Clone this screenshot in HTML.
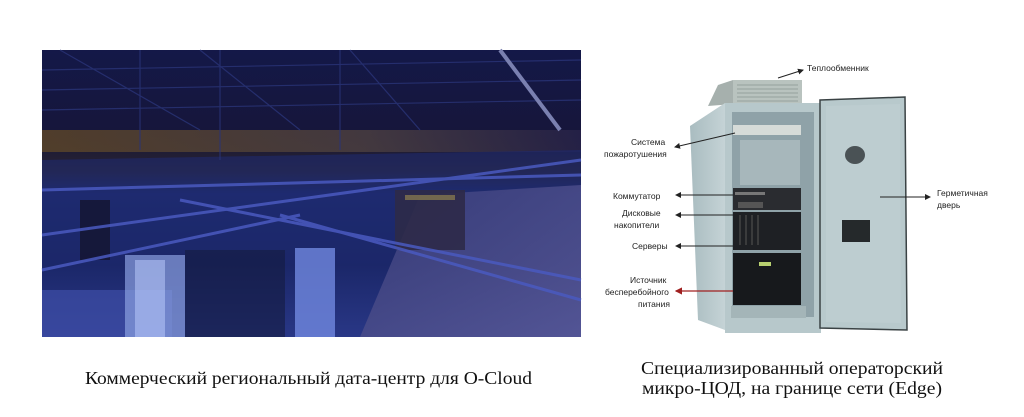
<!DOCTYPE html>
<html><head><meta charset="utf-8"><style>
html,body{margin:0;padding:0;background:#fff;width:1024px;height:417px;overflow:hidden}
svg{display:block}
.l{font-family:"Liberation Sans","DejaVu Sans",sans-serif;font-size:8.5px;fill:#222}
.c{font-family:"Liberation Serif",serif;font-size:18px;fill:#111}
</style></head><body>
<svg width="1024" height="417" viewBox="0 0 1024 417" xmlns="http://www.w3.org/2000/svg">
<defs>
<linearGradient id="sky" x1="0" y1="0" x2="0" y2="1">
<stop offset="0" stop-color="#141848"/><stop offset="0.3" stop-color="#16163a"/>
<stop offset="0.42" stop-color="#2a2430"/><stop offset="0.5" stop-color="#1e2c70"/>
<stop offset="0.75" stop-color="#182460"/><stop offset="1" stop-color="#3a4ca8"/>
</linearGradient>
<linearGradient id="band" x1="0" y1="0" x2="1" y2="0">
<stop offset="0" stop-color="#5a4428"/><stop offset="0.6" stop-color="#4a3e40"/><stop offset="1" stop-color="#262248"/>
</linearGradient>
<linearGradient id="floor" x1="0" y1="0" x2="1" y2="1">
<stop offset="0" stop-color="#3a3e7a"/><stop offset="1" stop-color="#5a5a98"/>
</linearGradient>
<linearGradient id="cab" x1="0" y1="0" x2="1" y2="0">
<stop offset="0" stop-color="#a9bcc0"/><stop offset="1" stop-color="#c5d3d6"/>
</linearGradient>
<marker id="a" markerWidth="6" markerHeight="6" refX="5" refY="3" orient="auto"><path d="M0 0 L6 3 L0 6Z" fill="#222"/></marker>
<marker id="r" markerWidth="6" markerHeight="6" refX="5" refY="3" orient="auto"><path d="M0 0 L6 3 L0 6Z" fill="#a02020"/></marker>
</defs>
<!-- left photo -->
<rect x="42" y="50" width="539" height="287" fill="url(#sky)"/>
<rect x="42" y="130" width="539" height="22" fill="url(#band)" opacity="0.85"/>
<path d="M42 160 L581 150 L581 337 L42 337Z" fill="#1e2a70" opacity="0.6"/>
<path d="M420 195 L581 185 L581 337 L360 337Z" fill="url(#floor)" opacity="0.85"/>
<rect x="42" y="290" width="130" height="47" fill="#3e4ea8" opacity="0.7"/>
<rect x="125" y="255" width="60" height="82" fill="#8aa0e0" opacity="0.7"/>
<rect x="135" y="260" width="30" height="77" fill="#c0d0ff" opacity="0.5"/>
<rect x="295" y="248" width="40" height="89" fill="#7088e0" opacity="0.8"/>
<rect x="185" y="250" width="100" height="87" fill="#141a40" opacity="0.6"/>
<rect x="80" y="200" width="30" height="60" fill="#14142e" opacity="0.8"/>
<rect x="395" y="190" width="70" height="60" fill="#2e2a48" opacity="0.9"/>
<rect x="405" y="195" width="50" height="5" fill="#a09050" opacity="0.6"/>
<g stroke="#4a5ac0" stroke-width="3" opacity="0.85">
<line x1="42" y1="235" x2="581" y2="160"/><line x1="42" y1="270" x2="300" y2="215"/>
<line x1="180" y1="200" x2="581" y2="280"/><line x1="42" y1="190" x2="581" y2="175"/>
<line x1="280" y1="215" x2="581" y2="300"/>
</g>
<g stroke="#2a3478" stroke-width="1.2" opacity="0.8">
<line x1="42" y1="70" x2="581" y2="60"/><line x1="42" y1="90" x2="581" y2="80"/>
<line x1="42" y1="110" x2="581" y2="100"/><line x1="60" y1="50" x2="200" y2="130"/>
<line x1="200" y1="50" x2="300" y2="130"/><line x1="350" y1="50" x2="420" y2="130"/>
<line x1="220" y1="50" x2="220" y2="160"/><line x1="140" y1="50" x2="140" y2="150"/>
<line x1="340" y1="50" x2="340" y2="150"/>
</g>
<line x1="500" y1="50" x2="560" y2="130" stroke="#7a80b0" stroke-width="4"/>
<!-- cabinet -->
<path d="M733 80 L802 80 L802 104 L733 104Z" fill="#b9c3bf"/>
<g stroke="#8a9492" stroke-width="0.8">
<line x1="737" y1="85" x2="798" y2="85"/><line x1="737" y1="89" x2="798" y2="89"/>
<line x1="737" y1="93" x2="798" y2="93"/><line x1="737" y1="97" x2="798" y2="97"/>
<line x1="737" y1="101" x2="798" y2="101"/></g>
<path d="M718 85 L733 80 L733 104 L708 106Z" fill="#a6b0ad"/>
<path d="M690 126 L725 103 L725 330 L698 320Z" fill="url(#cab)"/>
<rect x="725" y="103" width="96" height="230" fill="#b7c8cb"/>
<rect x="732" y="112" width="82" height="205" fill="#8fa2a8"/>
<rect x="733" y="125" width="68" height="10" fill="#d6dbd8"/>
<rect x="740" y="140" width="60" height="45" fill="#a7b7bb"/>
<rect x="733" y="188" width="68" height="22" fill="#2a2c30"/>
<rect x="735" y="192" width="30" height="3" fill="#777"/>
<rect x="738" y="202" width="25" height="6" fill="#555"/>
<rect x="733" y="212" width="68" height="38" fill="#1e2024"/>
<g stroke="#444" stroke-width="1.5"><line x1="740" y1="215" x2="740" y2="245"/><line x1="746" y1="215" x2="746" y2="245"/><line x1="752" y1="215" x2="752" y2="245"/><line x1="758" y1="215" x2="758" y2="245"/></g>
<rect x="733" y="253" width="68" height="52" fill="#17191c"/>
<rect x="759" y="262" width="12" height="4" fill="#b8d070"/>
<rect x="731" y="306" width="75" height="12" fill="#a4b5b8"/>
<path d="M820 100 L905 97 L907 330 L820 328Z" fill="#b8c9cc" stroke="#3a4244" stroke-width="1.5"/>
<path d="M826 106 L900 104 L901 323 L826 322Z" fill="#bdcdd0"/>
<ellipse cx="855" cy="155" rx="10" ry="9" fill="#4a5255"/>
<rect x="842" y="220" width="28" height="22" fill="#25292b"/>
<!-- labels -->
<text class="l" x="807" y="71">Теплообменник</text>
<line x1="778" y1="78" x2="803" y2="70" stroke="#222" stroke-width="1" marker-end="url(#a)"/>
<text class="l" x="631" y="145">Система</text>
<text class="l" x="604" y="157">пожаротушения</text>
<line x1="735" y1="133" x2="675" y2="147" stroke="#222" stroke-width="1" marker-end="url(#a)"/>
<text class="l" x="613" y="199">Коммутатор</text>
<line x1="733" y1="195" x2="676" y2="195" stroke="#222" stroke-width="1" marker-end="url(#a)"/>
<text class="l" x="622" y="216">Дисковые</text>
<text class="l" x="614" y="228">накопители</text>
<line x1="733" y1="215" x2="676" y2="215" stroke="#222" stroke-width="1" marker-end="url(#a)"/>
<text class="l" x="632" y="249">Серверы</text>
<line x1="733" y1="246" x2="676" y2="246" stroke="#222" stroke-width="1" marker-end="url(#a)"/>
<text class="l" x="630" y="283">Источник</text>
<text class="l" x="605" y="295">бесперебойного</text>
<text class="l" x="638" y="307">питания</text>
<line x1="733" y1="291" x2="676" y2="291" stroke="#a02020" stroke-width="1.2" marker-end="url(#r)"/>
<text class="l" x="937" y="196">Герметичная</text>
<text class="l" x="937" y="208">дверь</text>
<line x1="880" y1="197" x2="930" y2="197" stroke="#222" stroke-width="1" marker-end="url(#a)"/>
<!-- captions -->
<text class="c" x="85" y="384" textLength="447" lengthAdjust="spacingAndGlyphs">Коммерческий региональный дата-центр для O-Cloud</text>
<text class="c" x="641" y="374" textLength="302" lengthAdjust="spacingAndGlyphs">Специализированный операторский</text>
<text class="c" x="642" y="394" textLength="300" lengthAdjust="spacingAndGlyphs">микро-ЦОД, на границе сети (Edge)</text>
</svg>
</body></html>
